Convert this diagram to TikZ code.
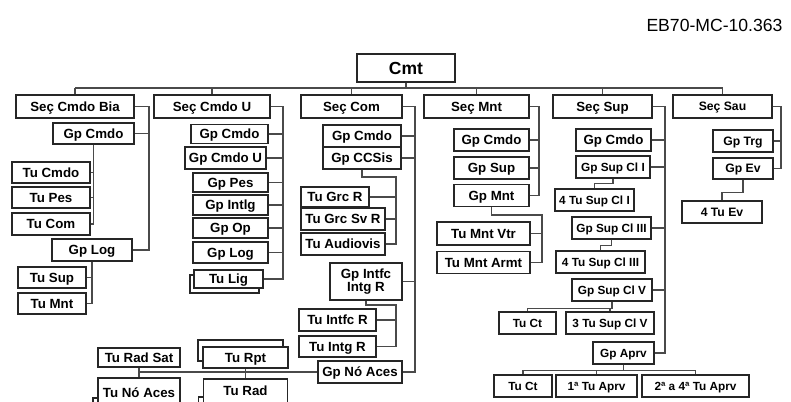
\documentclass[tikz,border=0pt]{standalone}
\usepackage{fontspec}
\setmainfont{Liberation Sans}
\usetikzlibrary{shadows}
\definecolor{frame}{HTML}{262626}
\definecolor{wirecol}{HTML}{4A4A4A}
\tikzset{
  plainbox/.style={draw=frame,line width=1.1pt,fill=white,inner sep=0pt,align=center,
    font=\fontsize{13.3}{14}\selectfont\bfseries},
  orgbox/.style={plainbox,text height=9.5pt,text depth=0pt},
  supbox/.style={plainbox,font=\fontsize{11.8}{13}\selectfont\bfseries,text height=8.5pt,text depth=0pt},
  saubox/.style={plainbox,font=\fontsize{12.2}{13}\selectfont\bfseries,text height=8.7pt,text depth=0pt},
  link/.style={draw=wirecol,line width=1.1pt}
}

\begin{document}
\begin{tikzpicture}[x=1pt,y=-1pt]
  \useasboundingbox (0,0) rectangle (791,401);
  \clip (0,0) rectangle (791,401);
  \node[anchor=east,font=\fontsize{17.6}{19}\selectfont] (doc) at (786,25) {EB70-MC-10.363};
  % command and sections
  \node[plainbox,minimum width=98,minimum height=28,font=\fontsize{17.5}{19}\selectfont\bfseries,
    text height=12.5pt,text depth=0pt] (cmt) at (406,68) {Cmt};
  \foreach \nm/\cx/\w/\txt in {bia/75/118/Seç Cmdo Bia, cmdou/212/116/Seç Cmdo U,
      com/351.5/101/Seç Com, mnt/476.5/105/Seç Mnt, sup/602.5/99/Seç Sup}
    \node[orgbox,minimum width=\w,minimum height=23] (\nm) at (\cx,106.5) {\txt};
  \node[saubox,minimum width=99,minimum height=23] (sau) at (722.5,106.5) {Seç Sau};
  % units: name, centre x, centre y, width, height, text
  \foreach \nm/\cx/\cy/\w/\h/\txt in {
      bgcmdo/93.5/133.5/81/21/Gp Cmdo, btcmdo/51/172.5/78/21/Tu Cmdo,
      btpes/51/197.5/78/21/Tu Pes, btcom/51/224/78/22/Tu Com,
      bglog/92/250/80/22/Gp Log, btsup/52/277.5/68/21/Tu Sup,
      btmnt/52/303.5/68/21/Tu Mnt,
      ugcmdo/229.5/134/77/19/Gp Cmdo, ugcmdou/225.5/158/81/22/Gp Cmdo U,
      ugpes/230.5/182.5/75/19/Gp Pes, ugintlg/230.5/205/75/20/Gp Intlg,
      ugop/230.5/228/75/20/Gp Op, uglog/230.5/252.5/75/21/Gp Log,
      cgcmdo/362/136/78/22/Gp Cmdo, cgccsis/362/158/78/22/Gp CCSis,
      ctgrcr/335/197/68/20/Tu Grc R, ctgrcsvr/343/219/84/22/Tu Grc Sv R,
      ctaudio/343/244/84/22/Tu Audiovis, ctintfc/337.5/320/77/22/Tu Intfc R,
      ctintg/337.5/346.5/77/21/Tu Intg R, cgnoaces/360/372/84/22/Gp Nó Aces,
      trsat/139/357.5/82/19/Tu Rad Sat,
      mgcmdo/491.5/140/75/22/Gp Cmdo, mgsup/491.5/168/75/22/Gp Sup,
      mgmnt/491.5/195.5/75/22/Gp Mnt, mtvtr/483.5/233.5/93/23/Tu Mnt Vtr,
      mtarmt/483.5/262.5/93/22/Tu Mnt Armt,
      sgcmdo/613.5/140/75/22/Gp Cmdo}
    \node[orgbox,minimum width=\w,minimum height=\h] (\nm) at (\cx,\cy) {\txt};
  \foreach \nm/\cx/\cy/\w/\h/\txt in {
      sgcl1/613/167/74/22/Gp Sup Cl I, s4tcl1/594.5/200/79/22/4 Tu Sup Cl I,
      sgcl3/611.5/228/79/22/Gp Sup Cl III, s4tcl3/600.5/262/89/22/4 Tu Sup Cl III,
      sgcl5/612/290/80/22/Gp Sup Cl V, stct1/527.5/323/57/22/Tu Ct,
      s3tcl5/610/323/88/22/3 Tu Sup Cl V, sgaprv/623.5/353/61/22/Gp Aprv,
      stct2/523/386/58/22/Tu Ct, st1aprv/596.5/386/81/22/1ª Tu Aprv,
      st2aprv/695.5/386/107/22/2ª a 4ª Tu Aprv}
    \node[supbox,minimum width=\w,minimum height=\h] (\nm) at (\cx,\cy) {\txt};
  \foreach \nm/\cx/\cy/\w/\h/\txt in {
      agtrg/743/141/60/22/Gp Trg, agev/743/168.5/60/21/Gp Ev, a4tev/722/212/80/22/4 Tu Ev}
    \node[saubox,minimum width=\w,minimum height=\h] (\nm) at (\cx,\cy) {\txt};
  \node[plainbox,minimum width=72,minimum height=37,font=\fontsize{13.3}{13.6}\selectfont\bfseries]
    (cgintfc) at (366,281.5) {Gp Intfc\\Intg R};
  % stacked units
  \node[orgbox,minimum width=69,minimum height=18,copy shadow={shadow xshift=-4pt,shadow yshift=-5pt}] (utlig) at (228.5,279) {Tu Lig};
  \node[orgbox,minimum width=85,minimum height=21,copy shadow={shadow xshift=-5pt,shadow yshift=7pt}] (trpt) at (245.5,357.5) {Tu Rpt};
  \node[orgbox,minimum width=82,minimum height=30,copy shadow={shadow xshift=-5pt,shadow yshift=-20pt}] (trnoaces) at (139,393) {Tu Nó Aces};
  \node[orgbox,minimum width=84,minimum height=24,copy shadow={shadow xshift=-5pt,shadow yshift=-18pt}] (trrad) at (245.5,391) {Tu Rad};

  % bus under Cmt
  \coordinate (bus) at (0,88);
  \draw[link] (cmt.south) -- (cmt.south |- bus);
  \draw[link] (bus -| bia.north) -- (bus -| sau.north);
  \foreach \s in {bia,cmdou,com,mnt,sup,sau}
    \draw[link] (bus -| \s.north) -- (\s.north);
  % trunks of the sections
  \coordinate (tbia) at (149,0);
  \coordinate (tcmdou) at (283,0);
  \coordinate (tcom) at (415,0);
  \coordinate (tmnt) at (539,0);
  \coordinate (tsup) at (665,0);
  \coordinate (tsau) at (781,0);
  \coordinate (jccsis) at (396,177);
  \coordinate (jintfc) at (396,305);
  \coordinate (jmnt) at (542,215);

  % Seç Cmdo Bia
  \draw[link] (bia.east) -| (tbia |- bglog.east) -- (bglog.east);
  \draw[link] (bgcmdo.east) -- (bgcmdo.east -| tbia);
  \draw[link] (bgcmdo.south) |- (btcom.east);
  \foreach \c in {btcmdo,btpes}
    \draw[link] (\c.east) -- (\c.east -| bgcmdo.south);
  \draw[link] (bglog.south) |- (btmnt.east);
  \draw[link] (btsup.east) -- (btsup.east -| bglog.south);
  % Seç Cmdo U
  \draw[link] (cmdou.east) -| (tcmdou |- utlig.east) -- (utlig.east);
  \foreach \c in {ugcmdo,ugcmdou,ugpes,ugintlg,ugop,uglog}
    \draw[link] (\c.east) -- (\c.east -| tcmdou);
  % Seç Com
  \draw[link] (com.east) -| (tcom |- cgnoaces.east) -- (cgnoaces.east);
  \foreach \c in {cgcmdo,cgccsis,cgintfc}
    \draw[link] (\c.east) -- (\c.east -| tcom);
  \draw[link] (cgccsis.south) |- (jccsis) |- (ctaudio.east);
  \foreach \c in {ctgrcr,ctgrcsvr}
    \draw[link] (\c.east) -- (\c.east -| jccsis);
  \draw[link] (cgintfc.south) |- (jintfc) |- (ctintg.east);
  \draw[link] (ctintfc.east) -- (ctintfc.east -| jintfc);
  \draw[link] (cgnoaces.west) -- (cgnoaces.west -| trsat.south);
  \draw[link] (trsat.south) -- (trnoaces.north);
  \draw[link] (trpt.south) -- (trrad.north);
  % Seç Mnt
  \draw[link] (mnt.east) -| (tmnt |- mgmnt.east) -- (mgmnt.east);
  \foreach \c in {mgcmdo,mgsup}
    \draw[link] (\c.east) -- (\c.east -| tmnt);
  \draw[link] (mgmnt.south) |- (jmnt) |- (mtarmt.east);
  \draw[link] (mtvtr.east) -- (mtvtr.east -| jmnt);
  % Seç Sup
  \draw[link] (sup.east) -| (tsup |- sgaprv.east) -- (sgaprv.east);
  \foreach \c in {sgcmdo,sgcl1,sgcl3,sgcl5}
    \draw[link] (\c.east) -- (\c.east -| tsup);
  \draw[link] (sgcl1.south) -- ++(0,5) -| (s4tcl1.north);
  \draw[link] (sgcl3.south) -- ++(0,6) -| (s4tcl3.north);
  \draw[link] (sgcl5.south) -- ++(0,6.5) coordinate (jcl5) -| (s3tcl5.north);
  \draw[link] (jcl5) -| (stct1.north);
  \draw[link] (sgaprv.south) -- ++(0,6) coordinate (japrv) -| (st2aprv.north);
  \draw[link] (japrv) -| (stct2.north);
  \draw[link] (japrv) -| (st1aprv.north);
  % Seç Sau
  \draw[link] (sau.east) -| (tsau |- agev.east) -- (agev.east);
  \draw[link] (agtrg.east) -- (agtrg.east -| tsau);
  \draw[link] (agev.south) -- ++(0,12.5) -| (a4tev.north);
\end{tikzpicture}
\end{document}
